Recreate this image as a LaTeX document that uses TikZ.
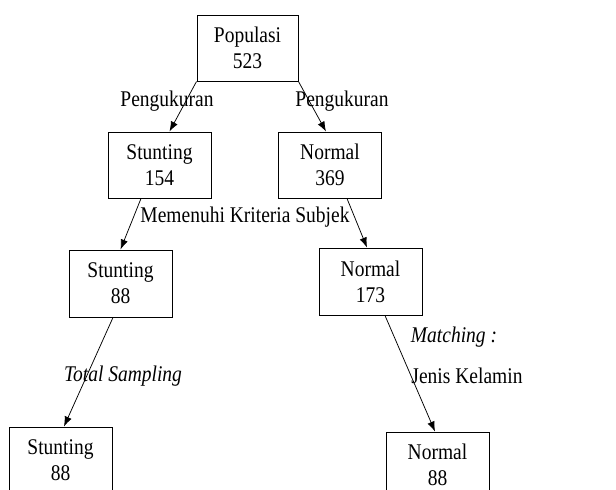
\documentclass[tikz,border=0pt]{standalone}
\usepackage{fontspec}
\setmainfont{Liberation Serif}
\usetikzlibrary{arrows.meta}
\newcommand\vstr[1]{\scalebox{1}[1.15]{#1}}
\begin{document}
\begin{tikzpicture}[x=1pt,y=-1pt,
  box/.style={draw, line width=1pt, minimum width=103pt, inner sep=0pt, align=center,
    font=\fontsize{19.5}{26}\selectfont},
  lbl/.style={inner sep=0pt, font=\fontsize{19.5}{24}\selectfont},
  conn/.style={line width=0.75pt, -{Latex[length=10pt,width=7.5pt]}}]
\useasboundingbox (0,0) rectangle (616,490);
\node[box, minimum width=101pt, minimum height=66pt] (pop) at (247.5,48) {\vstr{Populasi}\\\vstr{523}};
\node[box, minimum height=66pt] (s1) at (159.5,165) {\vstr{Stunting}\\\vstr{154}};
\node[box, minimum height=66pt] (n1) at (330,165) {\vstr{Normal}\\\vstr{369}};
\node[box, minimum height=67pt] (s2) at (120.5,283.5) {\vstr{Stunting}\\\vstr{88}};
\node[box, minimum height=67pt] (n2) at (370.5,281.5) {\vstr{Normal}\\\vstr{173}};
\node[box, minimum height=66pt] (s3) at (60.5,460) {\vstr{Stunting}\\\vstr{88}};
\node[box, minimum height=66pt] (n3) at (437.5,465) {\vstr{Normal}\\\vstr{88}};
\node[lbl] (l1) at (167,101) {\vstr{Pengukuran}};
\node[lbl] (l2) at (342,101) {\vstr{Pengukuran}};
\node[lbl] (l3) at (245,217) {\vstr{Memenuhi Kriteria Subjek}};
\node[lbl] (l4) at (123,376) {\vstr{\itshape Total Sampling}};
\node[lbl] (l5) at (454,337) {\vstr{\itshape Matching :}};
\node[lbl] (l6) at (467,376) {\vstr{Jenis Kelamin}};
\draw[conn] (pop.south west) -- ([xshift=10pt]s1.north);
\draw[conn] (pop.south east) -- ([xshift=-4pt]n1.north);
\draw[conn] ([xshift=-18.5pt]s1.south) -- (s2.north);
\draw[conn] ([xshift=17pt]n1.south) -- ([xshift=-3.5pt]n2.north);
\draw[conn] ([xshift=-7.5pt]s2.south) -- ([xshift=3.5pt]s3.north);
\draw[conn] ([xshift=14.5pt]n2.south) -- ([xshift=-2.5pt]n3.north);
\end{tikzpicture}
\end{document}
